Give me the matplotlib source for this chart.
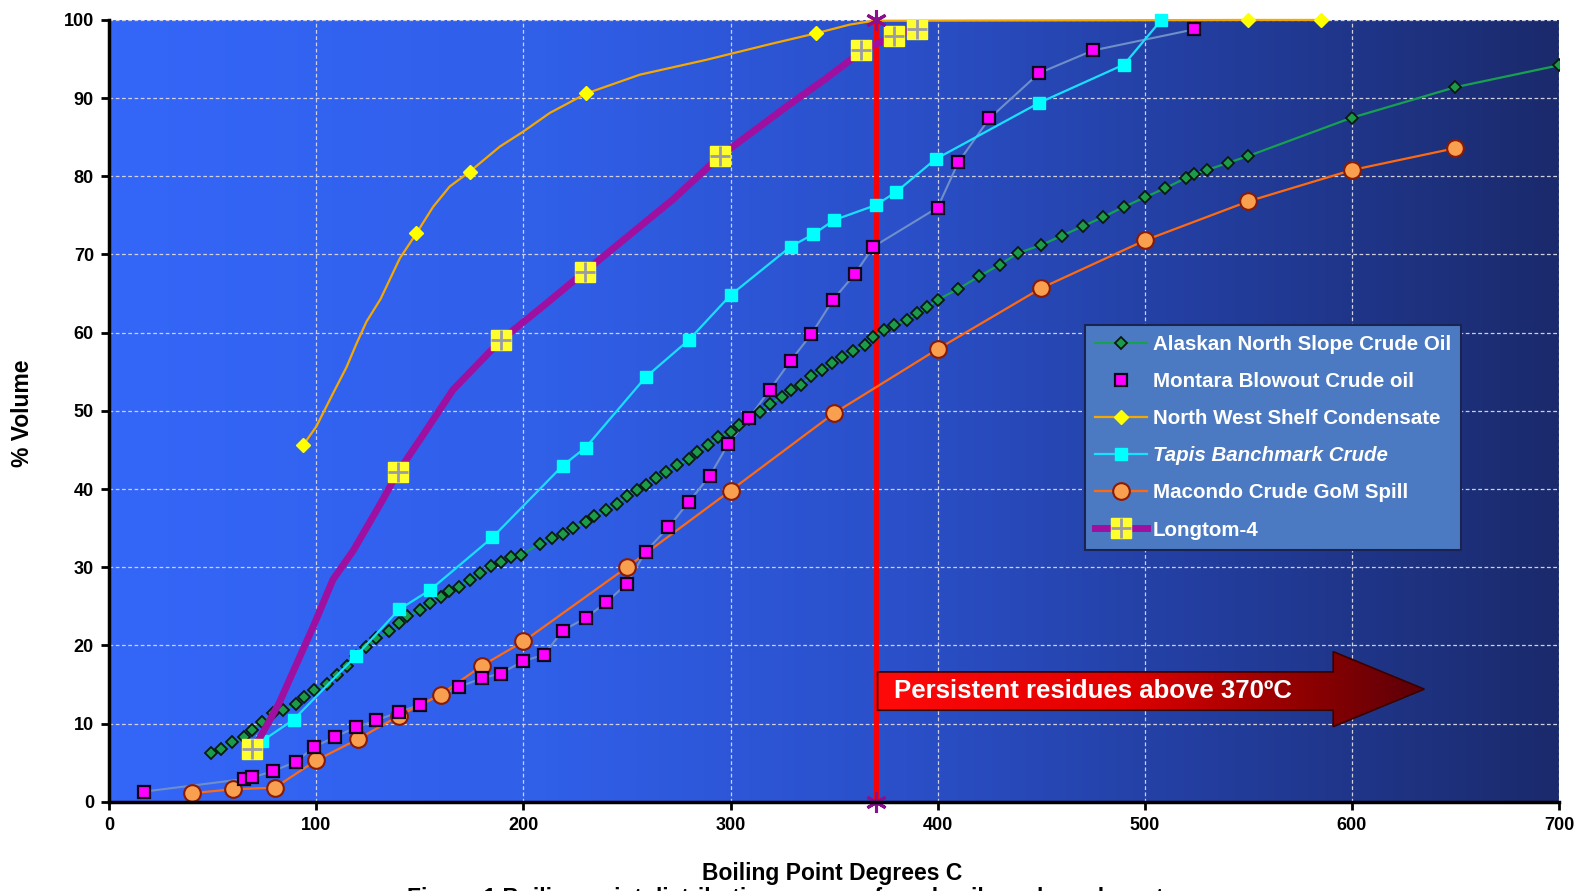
import numpy as np
import matplotlib
matplotlib.use('Agg')
import matplotlib.pyplot as plt
from matplotlib.colors import LinearSegmentedColormap
from matplotlib.patches import Polygon

plt.rcParams['font.family'] = ['Liberation Sans', 'DejaVu Sans']
plt.rcParams['font.weight'] = 'bold'

#-------------------------------------------------------------------------------
# Alaskan North Slope Crude Oil
ans_x = [49, 54, 59.5, 65, 69, 74, 79, 84, 90, 94, 99, 105, 110, 115, 119, 124, 129,
         135, 140, 144, 150, 155, 160, 164, 169, 174, 179, 184.5, 189, 194, 199,
         208, 214, 219, 224, 230, 234, 240, 245, 250, 255, 259, 264, 269, 274, 280,
         284, 289, 294, 300, 304, 309, 314, 319, 325, 329, 334, 339, 344, 349, 354,
         359, 365, 369, 374, 379, 385, 390, 395, 400, 410, 420,
         430, 439, 450, 460, 470, 480, 490, 500, 510, 520, 524, 530, 540, 550,
         600, 650, 700]
ans_y = [6.2, 6.8, 7.6, 8.3, 9.2, 10.2, 11.3, 11.7, 12.5, 13.4, 14.3, 15.1, 16.2, 17.3,
         18.6, 19.8, 20.9, 21.8, 22.8, 23.7, 24.5, 25.4, 26.2, 26.9, 27.5, 28.4, 29.2,
         30.1, 30.7, 31.3, 31.6,
         33.0, 33.7, 34.3, 35.0, 35.8, 36.5, 37.3, 38.1, 39.1, 39.9, 40.5, 41.4, 42.2,
         43.1, 43.8, 44.7, 45.6, 46.6, 47.3, 48.2, 49.0, 49.9, 50.9, 51.8, 52.7, 53.3,
         54.4, 55.2, 56.1, 56.9, 57.6, 58.4, 59.5, 60.3, 61.0, 61.6, 62.5, 63.3, 64.2,
         65.6, 67.2,
         68.7, 70.2, 71.2, 72.4, 73.6, 74.8, 76.1, 77.3, 78.5, 79.8, 80.3, 80.8, 81.7,
         82.6, 87.5, 91.4, 94.2]
# Montara Blowout Crude oil
mon_x = [17, 65, 69, 79, 90, 99, 109, 119, 129, 140, 150, 169, 180, 189, 200, 210,
         219, 230, 240, 250, 259, 270, 280, 290, 299, 309, 319, 329, 339, 349.5, 360,
         369, 400, 410, 425, 449, 475, 524]
mon_y = [1.3, 2.9, 3.1, 3.9, 5.1, 7.0, 8.3, 9.5, 10.4, 11.5, 12.4, 14.7, 15.8, 16.4,
         18.0, 18.8, 21.9, 23.5, 25.5, 27.9, 32.0, 35.1, 38.4, 41.7, 45.8, 49.1, 52.7,
         56.4, 59.8, 64.2, 67.5, 71.0, 76.0, 81.8, 87.4, 93.2, 96.1, 98.8]
# North West Shelf Condensate
nws_x = [93.6, 100, 108, 114.6, 119.4, 124.2, 131, 140.3, 148.3, 156.4, 164.4, 174.1,
         188.6, 199.8, 212.7, 230.4, 256.2, 288.3, 320.5, 341.4, 357.5, 369, 550, 585]
nws_y = [45.6, 48.0, 52.2, 55.6, 58.6, 61.4, 64.3, 69.5, 72.7, 76.1, 78.7, 80.6,
         83.8, 85.7, 88.1, 90.6, 93.0, 94.9, 97.0, 98.3, 99.4, 99.9, 100, 100]
nws_marks = [0, 8, 11, 15, 19, 22, 23]
# Tapis Benchmark Crude
tap_x = [74, 89, 119, 140, 155, 185, 219, 230, 259, 280, 300, 329, 340, 350, 370,
         380, 399, 449, 490, 508]
tap_y = [7.8, 10.5, 18.6, 24.6, 27.1, 33.8, 43.0, 45.3, 54.3, 59.1, 64.8, 71.0, 72.6,
         74.4, 76.3, 78.0, 82.2, 89.4, 94.3, 100]
# Macondo Crude GoM Spill
mac_x = [40, 60, 80, 100, 120, 140, 160, 180, 200, 250, 300, 350, 400, 450, 500, 550,
         600, 650]
mac_y = [1.1, 1.6, 1.8, 5.3, 8.0, 11.0, 13.7, 17.4, 20.5, 30.0, 39.8, 49.7, 57.9,
         65.7, 71.8, 76.8, 80.8, 83.6]
# Longtom-4
lt_x = [69, 73, 82, 98.5, 108, 118, 132, 139.5, 150, 166, 189.4, 210, 229.6, 272,
        295, 329, 345, 358, 363, 379, 390]
lt_y = [6.7, 8.3, 12.6, 22.4, 28.4, 32.2, 38.6, 42.2, 46.3, 52.7, 59.1, 63.5, 67.8,
        77.0, 82.6, 89.3, 92.3, 94.9, 96.1, 97.9, 98.9]
lt_marks = [0, 7, 10, 12, 14, 18, 19, 20]

cutoff = 370
arrow_end = 635
arrow_text = 'Persistent residues above 370ºC'
#-------------------------------------------------------------------------------
fig = plt.figure(figsize=(15.83, 8.91), dpi=100)
ax = fig.add_axes([0.069, 0.1002, 0.9158, 0.8774])

bg = LinearSegmentedColormap.from_list(
    'bg', [(0, '#3466F8'), (0.3, '#305FE8'), (0.55, '#2A4FC8'),
           (0.78, '#223C9A'), (1, '#1B2A6C')])
ax.imshow(np.linspace(0, 1, 256).reshape(1, -1), cmap=bg, extent=[0, 700, 0, 100],
          aspect='auto', zorder=0, interpolation='bicubic')

ax.set_axisbelow(True)
ax.grid(True, color='#D0D0E0', ls=(0, (3, 2)), lw=0.9)

# red cut-off line
ax.plot([cutoff, cutoff], [0, 100], color='#FF0000', lw=3.5, zorder=2, clip_on=False)

# arrow
body_lo, body_hi, head_lo, head_hi, head_x = 11.7, 16.6, 9.6, 19.2, 591
verts = [(cutoff + 1, body_lo), (head_x, body_lo), (head_x, head_lo),
         (arrow_end, (head_lo + head_hi) / 2), (head_x, head_hi),
         (head_x, body_hi), (cutoff + 1, body_hi)]
arr = Polygon(verts, closed=True, facecolor='none', edgecolor='#3A0000', lw=1.2,
              zorder=7)
ax.add_patch(arr)
red_cm = LinearSegmentedColormap.from_list(
    'red', [(0, '#FF0A0A'), (0.45, '#E00000'), (0.75, '#960000'), (1, '#5A0008')])
im = ax.imshow(np.linspace(0, 1, 256).reshape(1, -1), cmap=red_cm,
               extent=[cutoff + 1, arrow_end, head_lo, head_hi], aspect='auto',
               zorder=6.9, interpolation='bicubic')
im.set_clip_path(arr)
ax.text(cutoff + 9, (body_lo + body_hi) / 2, arrow_text, color='white',
        fontsize=18.5, fontweight='bold', va='center', ha='left', zorder=8)

# series
h_ans, = ax.plot(ans_x, ans_y, color='#16A050', lw=1.6, marker='D', ms=6,
                 mfc='#1E9B4A', mec='#0A1A10', mew=1.3, zorder=4)
ax.plot(mon_x, mon_y, color='#6F8FC8', lw=1.5, zorder=3)
h_mon, = ax.plot(mon_x, mon_y, ls='none', marker='s', ms=8.5, mfc='#FF00FF',
                 mec='#10051A', mew=1.6, zorder=4.5)
h_nws, = ax.plot(nws_x, nws_y, color='#F5A800', lw=1.6, marker='D', ms=7,
                 mfc='#FFFF00', mec='#FFFF00', markevery=nws_marks, zorder=4,
                 clip_on=False)
h_tap, = ax.plot(tap_x, tap_y, color='#18E0FF', lw=1.6, marker='s', ms=9,
                 mfc='#00FFFF', mec='#00FFFF', zorder=4, clip_on=False)
h_mac, = ax.plot(mac_x, mac_y, color='#FF6A10', lw=1.6, marker='o', ms=12,
                 mfc='#F8A050', mec='#8B1A00', mew=1.5, zorder=4)
h_lt, = ax.plot(lt_x, lt_y, color='#A010A0', lw=5, marker='s', ms=15,
                mfc='#FFFF30', mec='#FFFF30', markevery=lt_marks, zorder=5)
h_ltc, = ax.plot([lt_x[i] for i in lt_marks], [lt_y[i] for i in lt_marks], ls='none',
                 marker='+', ms=14, mec='#9A9AA8', mew=2, zorder=5.1)

ax.plot([cutoff, cutoff], [0, 100], ls='none', marker=(6, 2, 0), ms=15,
        mec='#8B1090', mew=2.2, zorder=9, clip_on=False)

ax.set_xlim(0, 700)
ax.set_ylim(0, 100)
ax.set_xticks(range(0, 701, 100))
ax.set_yticks(range(0, 101, 10))
ax.tick_params(direction='out', length=6, width=2, labelsize=13, pad=5)
for s in ['top', 'right']:
    ax.spines[s].set_visible(False)
for s in ['left', 'bottom']:
    ax.spines[s].set_linewidth(2.5)
    ax.spines[s].set_zorder(10)

leg = ax.legend([h_ans, h_mon, h_nws, h_tap, h_mac, (h_lt, h_ltc)],
                ['Alaskan North Slope Crude Oil', 'Montara Blowout Crude oil',
                 'North West Shelf Condensate', 'Tapis Banchmark Crude',
                 'Macondo Crude GoM Spill', 'Longtom-4'],
                loc='upper left', bbox_to_anchor=(0.673, 0.61), fontsize=14.8,
                frameon=True, fancybox=False, framealpha=1, facecolor='#4C7AC2',
                edgecolor='#1B2350', labelcolor='white', handlelength=2.5,
                handletextpad=0.3, labelspacing=0.88, borderpad=0.5,
                borderaxespad=0)
leg.get_frame().set_linewidth(1.5)
leg.set_zorder(11)
leg.get_texts()[3].set_style('italic')

fig.text(0.0145, 0.5365, '% Volume', rotation=90, fontsize=16.5, fontweight='bold',
         ha='center', va='center')
fig.text(0.5256, 0.02, 'Boiling Point Degrees C', fontsize=16.5, fontweight='bold',
         ha='center', va='center')
fig.text(0.257, -0.008, 'Figure 1 Boiling point distribution curves of crude oils and condensates',
         fontsize=16.5, fontweight='bold', ha='left', va='center')

fig.savefig('out.png', dpi=100)
